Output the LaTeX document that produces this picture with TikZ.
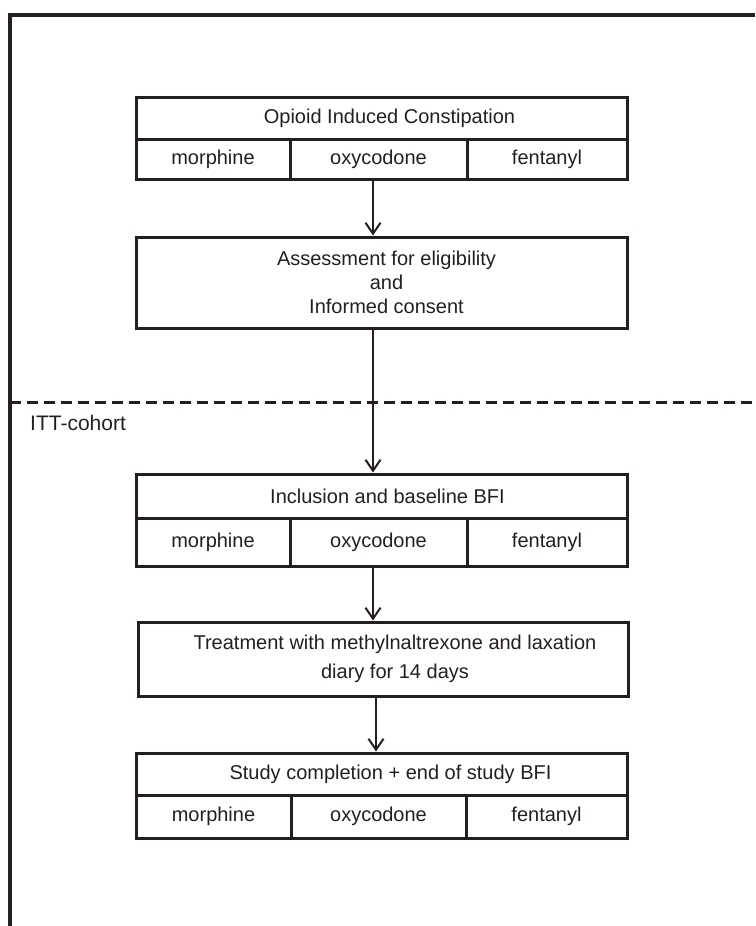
\documentclass[tikz,border=0pt]{standalone}
\usepackage{fontspec}
\setmainfont{Liberation Sans}
\usetikzlibrary{arrows.meta}
\definecolor{ink}{RGB}{35,31,32}
\begin{document}
\begin{tikzpicture}[x=1pt,y=-1pt,
  every node/.style={font=\fontsize{20}{24}\selectfont, text=ink},
  box/.style={draw=ink, line width=3pt, rectangle, inner sep=0pt},
  arr/.style={draw=ink, line width=2pt, -{Straight Barb[length=11pt,width=15pt,line width=2pt]}},
  frameline/.style={draw=ink, line width=4pt, line join=miter},
  divider/.style={draw=ink, line width=3pt, dash pattern=on 11pt off 6pt}
]
\useasboundingbox (0,0) rectangle (755,926);

% outer frame
\coordinate (fb) at (10,926);
\coordinate (ftl) at (10,15);
\coordinate (ftr) at (755,15);
\draw[frameline] (fb) -- (ftl) -- (ftr);

% dashed divider
\coordinate (dL) at (10,402);
\coordinate (dR) at (755,402);
\draw[divider] (dL) -- (dR);
\node[anchor=west, inner sep=0pt, font=\fontsize{21}{25}\selectfont] (itt) at (30,423) {ITT-cohort};

% Box A
\node[box, minimum width=491pt, minimum height=42pt] (oicT) at (381.5,118) {\hspace*{16pt}Opioid Induced Constipation};
\node[box, minimum width=154pt, minimum height=40pt] (oicM) at (213,159) {morphine};
\node[box, minimum width=177pt, minimum height=40pt] (oicO) at (378.5,159) {oxycodone};
\node[box, minimum width=160pt, minimum height=40pt] (oicF) at (547,159) {fentanyl};

% Box B
\node[box, minimum width=491pt, minimum height=91pt, align=center] (assess) at (381.5,282.5)
  {\hspace*{10pt}Assessment for eligibility\\\hspace*{10pt}and\\\hspace*{10pt}Informed consent};

% Box C
\node[box, minimum width=491pt, minimum height=44pt] (incT) at (381.5,496) {\hspace*{12pt}Inclusion and baseline BFI};
\node[box, minimum width=154pt, minimum height=48pt] (incM) at (213,542) {morphine};
\node[box, minimum width=177pt, minimum height=48pt] (incO) at (378.5,542) {oxycodone};
\node[box, minimum width=160pt, minimum height=48pt] (incF) at (547,542) {fentanyl};

% Box D
\node[box, minimum width=490pt, minimum height=74pt, align=center, font=\fontsize{20}{29}\selectfont] (treat) at (383,659)
  {\hspace*{24pt}Treatment with methylnaltrexone and laxation\\\hspace*{24pt}diary for 14 days};

% Box E
\node[box, minimum width=491pt, minimum height=42pt] (endT) at (381.5,774) {\hspace*{18pt}Study completion + end of study BFI};
\node[box, minimum width=155pt, minimum height=43pt] (endM) at (213.5,816.5) {morphine};
\node[box, minimum width=175pt, minimum height=43pt] (endO) at (378.5,816.5) {oxycodone};
\node[box, minimum width=161pt, minimum height=43pt] (endF) at (546.5,816.5) {fentanyl};

% arrows
\draw[arr] ([xshift=-5.5pt]oicO.south) -- ([xshift=-5.5pt]oicO.south |- assess.north);
\draw[arr] ([xshift=-8.5pt]assess.south) -- ([xshift=-8.5pt]assess.south |- incT.north);
\draw[arr] ([xshift=-5.5pt]incO.south) -- ([xshift=-5.5pt]incO.south |- treat.north);
\draw[arr] ([xshift=-7pt]treat.south) -- ([xshift=-7pt]treat.south |- endT.north);
\end{tikzpicture}
\end{document}
